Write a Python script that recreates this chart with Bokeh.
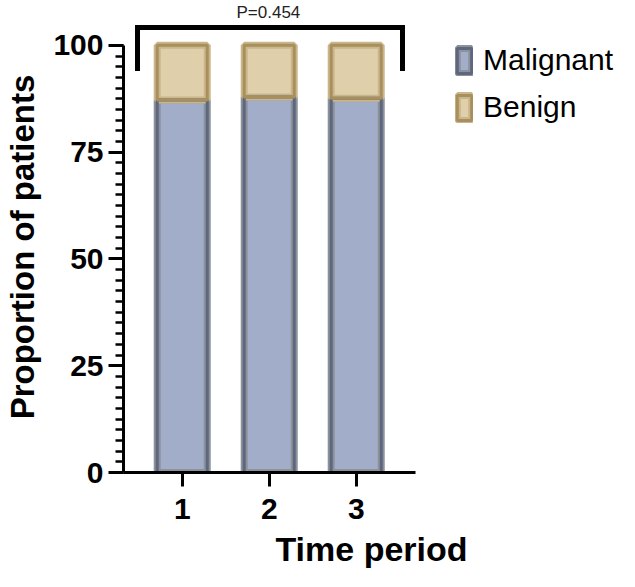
from bokeh.plotting import figure
from bokeh.models import (ColumnDataSource, FixedTicker, Legend, LegendItem, Range1d, Title)
from bokeh.embed import file_html
from bokeh.resources import INLINE

periods = [1, 2, 3]
period_labels = ["1", "2", "3"]
malignant = [87.2, 87.9, 87.6]
benign = [12.8, 12.1, 12.4]
y_major = [0, 25, 50, 75, 100]
p_value_text = "P=0.454"
x_title = "Time period"
y_title = "Proportion of patients"

FONT = "Liberation Sans"
MAL_FILL, MAL_OUT, MAL_IN = "#a2adc9", "#8d9199", "#5d6780"
BEN_FILL, BEN_OUT, BEN_IN = "#dfcfaa", "#cab68c", "#a98f5b"

src = ColumnDataSource(dict(
    x=periods,
    mal_top=malignant,
    ben_bottom=malignant,
    ben_top=[m + b for m, b in zip(malignant, benign)],
))

PX_PER_UNIT = 4.3
FRAME_LEFT, FRAME_TOP, FRAME_BOTTOM = 123, 18, 472
W_CANVAS, H_CANVAS = 619, 571
X0 = 0.325
p = figure(width=W_CANVAS, height=H_CANVAS, output_backend="svg", toolbar_location=None,
           x_range=Range1d(X0, X0 + (W_CANVAS - FRAME_LEFT) / 87.0),
           y_range=Range1d(0, (FRAME_BOTTOM - FRAME_TOP) / PX_PER_UNIT),
           min_border_left=FRAME_LEFT, min_border_top=FRAME_TOP,
           min_border_bottom=H_CANVAS - FRAME_BOTTOM, min_border_right=0)
p.outline_line_color = None
p.xgrid.visible = False
p.ygrid.visible = False
p.background_fill_color = None
p.border_fill_color = "white"

# P-value text as a title above the frame
p.title = Title(text=p_value_text, align="left", offset=113, standoff=0,
                text_font=FONT, text_font_size="17px", text_font_style="normal",
                text_color="#222222")

W = 0.575
r_mal_o = p.vbar(x="x", bottom=0, top="mal_top", width=W, source=src,
                 fill_color=MAL_FILL, line_color=MAL_OUT, line_width=7)
r_ben_o = p.vbar(x="x", bottom="ben_bottom", top="ben_top", width=W, source=src,
                 fill_color=BEN_FILL, line_color=BEN_OUT, line_width=7)
r_mal_i = p.vbar(x="x", bottom=0, top="mal_top", width=W, source=src,
                 fill_alpha=0, line_color=MAL_IN, line_width=3)
r_ben_i = p.vbar(x="x", bottom="ben_bottom", top="ben_top", width=W, source=src,
                 fill_alpha=0, line_color=BEN_IN, line_width=3)

# significance bracket
p.line(x=[0.486, 0.486, 3.532, 3.532], y=[94, 104.2, 104.2, 94], line_color="black",
       line_width=5, line_join="miter")

# y axis
ya = p.yaxis[0]
ya.ticker = FixedTicker(ticks=y_major, minor_ticks=[i * 2.5 for i in range(41)])
ya.bounds = (0, 100)
ya.axis_line_width = 3
ya.major_tick_line_width = 3
ya.minor_tick_line_width = 2.5
ya.major_tick_out = 15
ya.major_tick_in = 0
ya.minor_tick_out = 8
ya.minor_tick_in = 0
ya.major_label_text_font = FONT
ya.major_label_text_font_style = "bold"
ya.major_label_text_font_size = "30px"
ya.major_label_text_color = "black"
ya.major_label_standoff = 5
ya.axis_label = y_title
ya.axis_label_text_font = FONT
ya.axis_label_text_font_style = "bold"
ya.axis_label_text_font_size = "33px"
ya.axis_label_text_color = "black"
ya.axis_label_standoff = 9

# x axis
xa = p.xaxis[0]
xa.ticker = FixedTicker(ticks=periods, minor_ticks=[])
xa.major_label_overrides = {x: l for x, l in zip(periods, period_labels)}
xa.bounds = (X0, 3.68)
xa.axis_line_width = 3
xa.major_tick_line_width = 3
xa.major_tick_out = 14
xa.major_tick_in = 0
xa.minor_tick_out = 0
xa.major_label_text_font = FONT
xa.major_label_text_font_style = "bold"
xa.major_label_text_font_size = "30px"
xa.major_label_text_color = "black"
xa.major_label_standoff = 12
xa.axis_label = x_title
xa.axis_label_text_font = FONT
xa.axis_label_text_font_style = "bold"
xa.axis_label_text_font_size = "34px"
xa.axis_label_text_color = "black"
xa.axis_label_standoff = 8

legend = Legend(items=[LegendItem(label="Malignant", renderers=[r_mal_o, r_mal_i]),
                       LegendItem(label="Benign", renderers=[r_ben_o, r_ben_i])],
                location=(332, 348), glyph_width=18, glyph_height=31, spacing=13,
                padding=0, margin=0, label_standoff=10, border_line_color=None,
                background_fill_alpha=0, label_text_font=FONT, label_text_font_size="30px",
                label_text_color="black", label_height=31)
p.add_layout(legend)

open("out.html", "w").write(file_html(p, INLINE))
